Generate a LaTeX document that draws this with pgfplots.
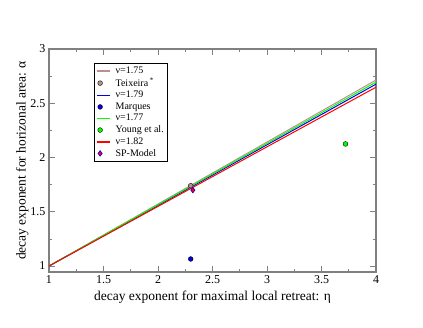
\documentclass[border=0pt]{standalone}
\usepackage{fontspec}
\setmainfont{Liberation Serif}
\usepackage{pgfplots}
\pgfplotsset{compat=1.18}
\definecolor{rosy}{RGB}{188,143,143}
\definecolor{gblue}{RGB}{0,0,235}
\definecolor{ggreen}{RGB}{0,255,0}
\definecolor{gred}{RGB}{255,0,0}
\pgfplotsset{
  lineleg/.style={legend image code/.code={%
    \draw[draw=#1, line width=1.6pt] (0pt,0pt) -- (13pt,0pt);
    \path[draw=none, fill=none] (0pt,0pt) rectangle (17pt,0.1pt);}},
  markleg/.style={legend image code/.code={%
    \draw[##1] plot coordinates {(3.5pt,0pt)};
    \path[draw=none, fill=none] (0pt,0pt) rectangle (17pt,0.1pt);}},
}

\begin{document}
\begin{tikzpicture}
\useasboundingbox (-49pt,-55pt) rectangle (374pt,272pt);
\begin{axis}[
  scale only axis, width=327pt, height=223pt,
  xmin=1, xmax=4, ymin=0.945, ymax=3,
  xtick={1,1.5,2,2.5,3,3.5,4}, ytick={1,1.5,2,2.5,3},
  minor tick num=1,
  tick align=inside, major tick length=6pt, minor tick length=3pt,
  axis line style={draw=gray, line width=1.2pt},
  tick style={gray, line width=0.8pt},
  tick label style={font=\fontsize{12}{14}\selectfont},
  label style={font=\fontsize{13.5}{15}\selectfont},
  ylabel shift=-5pt,
  /pgf/number format/assume math mode=true,
  xlabel={decay exponent for maximal local retreat: η},
  ylabel={decay exponent for horizonal area: α},
  legend cell align=left,
  legend style={at={(0.138,0.937)}, anchor=north west, draw=black,
    font=\fontsize{10}{12}\selectfont, inner sep=1.5pt, row sep=-0.6pt},
]
\addplot[rosy, line width=1pt, lineleg=rosy]
  coordinates {(1,1) (4,2.714)};
\addplot[only marks, mark=*, mark size=2.4pt,
  mark options={fill=rosy, draw=black, line width=0.4pt}, markleg]
  coordinates {(2.30,1.74)};
\addplot[gblue, line width=1pt, lineleg=gblue]
  coordinates {(1,1) (4,2.676)};
\addplot[only marks, mark=*, mark size=2.4pt,
  mark options={fill=gblue, draw=black, line width=0.4pt}, markleg]
  coordinates {(2.30,1.065)};
\addplot[ggreen, line width=1pt, lineleg=ggreen]
  coordinates {(1,1) (4,2.695)};
\addplot[only marks, mark=*, mark size=2.4pt,
  mark options={fill=ggreen, draw=black, line width=0.4pt}, markleg]
  coordinates {(3.72,2.125)};
\addplot[gred, line width=1pt, lineleg=gred]
  coordinates {(1,1) (4,2.648)};
\addplot[only marks, mark=diamond*, mark size=2.8pt,
  mark options={fill=gred, draw=gblue, line width=0.6pt}, markleg]
  coordinates {(2.32,1.70)};
\legend{ν=1.75, Teixeira\,\textsuperscript{*}, ν=1.79, Marques,
  ν=1.77, Young et al., ν=1.82, SP-Model}
\end{axis}
\end{tikzpicture}
\end{document}
